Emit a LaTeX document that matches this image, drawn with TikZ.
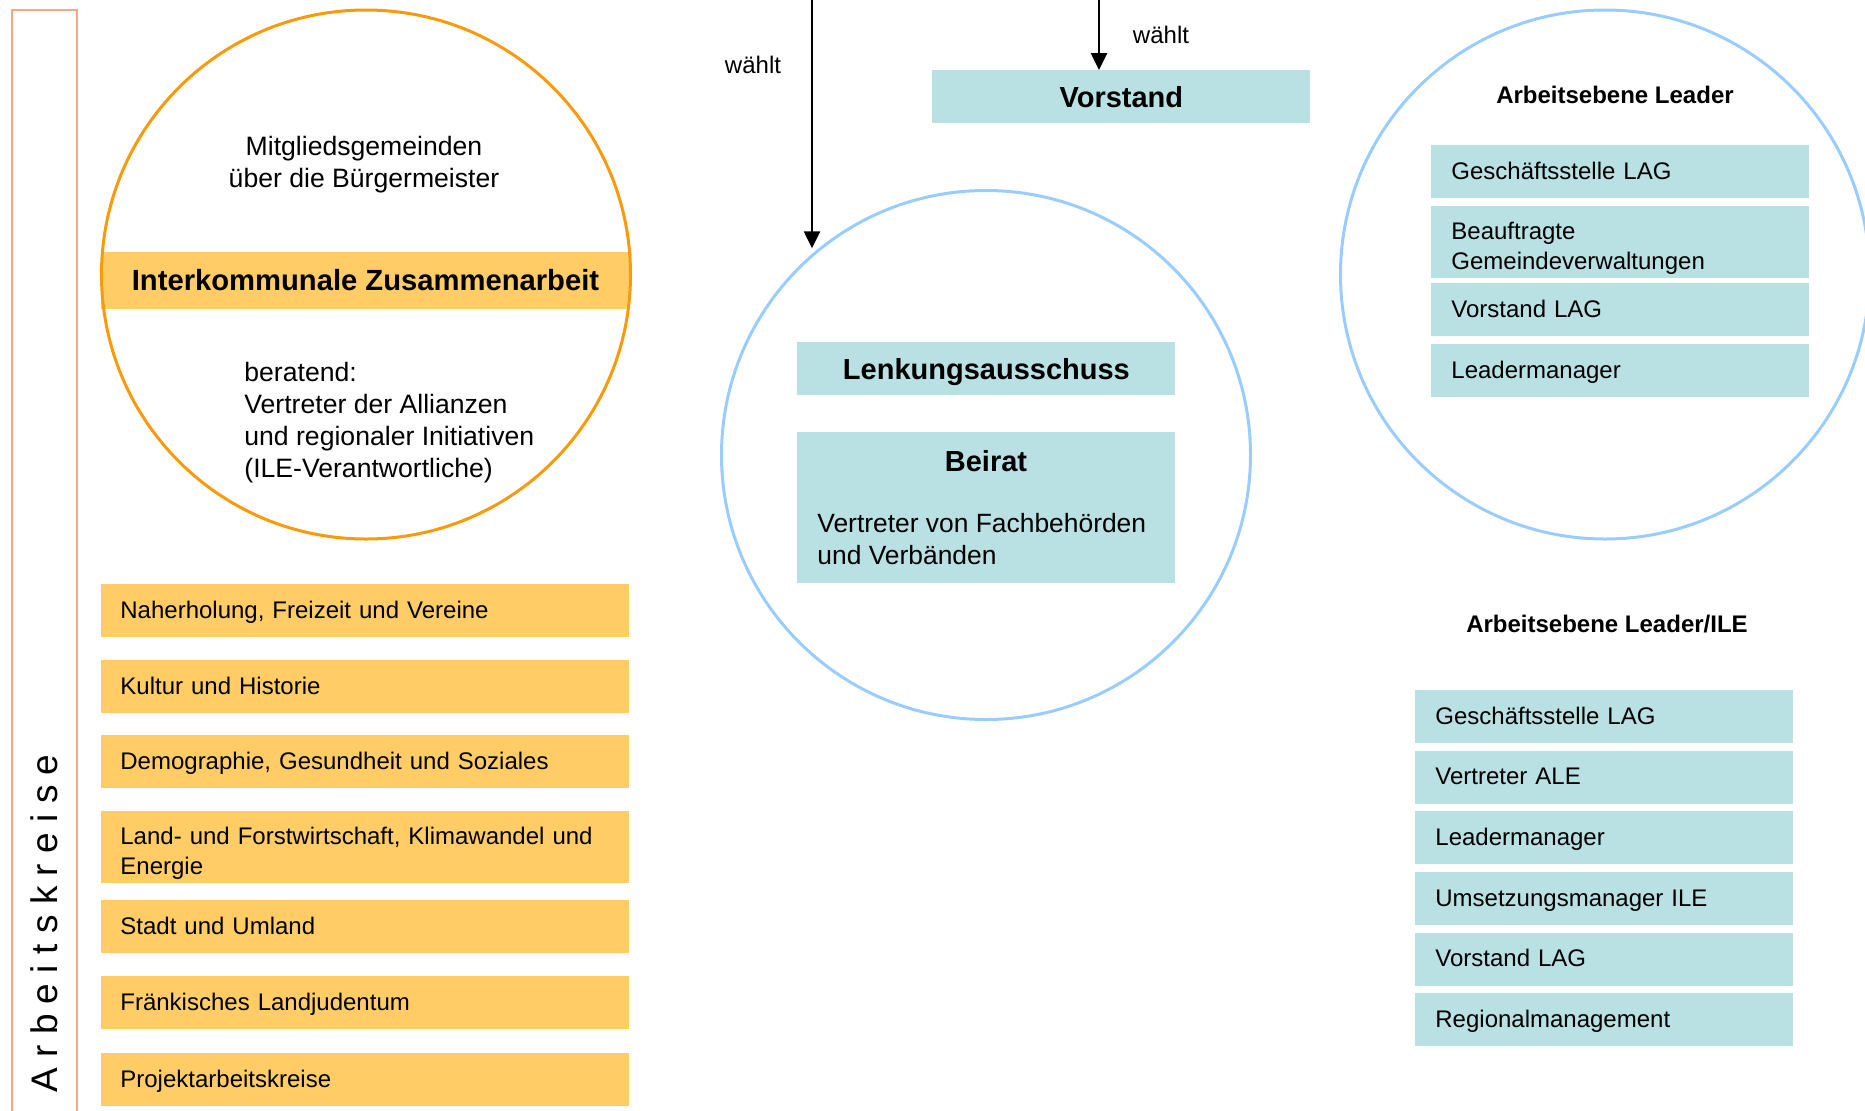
\documentclass[tikz,border=0pt]{standalone}
\usepackage{fontspec}
\setmainfont{Liberation Sans}
\newfontfamily\akfont[LetterSpace=28]{Liberation Sans}
\usetikzlibrary{arrows.meta}
\definecolor{orfill}{RGB}{255,204,102}
\definecolor{orline}{RGB}{248,154,10}
\definecolor{tealbox}{RGB}{185,224,227}
\definecolor{blueline}{RGB}{153,204,255}
\definecolor{salmonline}{RGB}{247,168,130}
\newcommand\myfs[2]{\fontsize{#1}{#2}\selectfont}
\begin{document}
\begin{tikzpicture}[x=0.5pt,y=-0.5pt,
  obox/.style={fill=orfill, anchor=north west, inner xsep=9.5pt, inner ysep=0pt, text width=245pt, align=left, minimum height=26.5pt, text height=8.6pt, text depth=1.4pt, font=\myfs{12}{14.8}},
  tbox/.style={fill=tealbox, anchor=north west, inner xsep=10pt, inner ysep=0pt, text width=169pt, align=left, minimum height=26.5pt, text height=8.6pt, text depth=1.4pt, font=\myfs{12}{14.8}},
  hbox/.style={fill=tealbox, anchor=north west, minimum width=189pt, minimum height=26.5pt, inner sep=0pt, text height=10.4pt, text depth=0.3pt, font=\bfseries\myfs{14.5}{17}},
  ring/.style={circle, inner sep=0pt, minimum size=264.5pt, line width=1.5pt},
  arr/.style={line width=1.3pt, -{Triangle[length=8.5pt,width=8pt]}},
  lbl/.style={font=\myfs{12}{14}, inner sep=0pt}
]
\useasboundingbox (0,0) rectangle (1865,1110);
\clip (0,0) rectangle (1865,1110);

% Arbeitskreise frame
\node[draw=salmonline, line width=1pt, anchor=north west, minimum width=32.75pt, minimum height=560pt, inner sep=0pt] (akframe) at (10.5,9) {};
\node[rotate=90, anchor=base west, inner sep=0pt, font=\akfont\myfs{18.5}{20}] (aktext) at (57,1093) {Arbeitskreise};

% Interkommunale Zusammenarbeit
\node[fill=orfill, minimum width=264.5pt, minimum height=28.5pt, inner sep=0pt, font=\bfseries\myfs{14.6}{17}] (ikz) at (365.5,280.5) {Interkommunale Zusammenarbeit};
\node[ring, draw=orline] (ike) at (366,274.5) {};
\node[align=center, inner sep=0pt, font=\myfs{13.3}{16}] (mitgl) at (364,164.5) {Mitgliedsgemeinden\\über die Bürgermeister};
\node[anchor=west, align=left, inner sep=0pt, font=\myfs{13.3}{16}] (berat) at (244,422.5) {beratend:\\Vertreter der Allianzen\\und regionaler Initiativen\\(ILE-Verantwortliche)};

% Arbeitskreise boxes
\node[obox] (k1) at (101,584) {Naherholung, Freizeit und Vereine};
\node[obox] (k2) at (101,660) {Kultur und Historie};
\node[obox] (k3) at (101,735) {Demographie, Gesundheit und Soziales};
\node[obox, minimum height=36pt, text depth=11.1pt] (k4) at (101,811) {Land- und Forstwirtschaft, Klimawandel und\\Energie};
\node[obox] (k5) at (101,900) {Stadt und Umland};
\node[obox] (k6) at (101,976) {Fränkisches Landjudentum};
\node[obox] (k7) at (101,1053) {Projektarbeitskreise};

% Middle
\node[ring, draw=blueline] (mid) at (986,455) {};
\node[hbox] (lenk) at (797,342) {Lenkungsausschuss};
\node[fill=tealbox, anchor=north west, minimum width=189pt, minimum height=75.5pt, inner sep=0pt] (beirat) at (797,432) {};
\node[font=\bfseries\myfs{14.5}{17}, inner sep=0pt] (beiratt) at (986,461) {Beirat};
\node[anchor=west, align=left, inner sep=0pt, font=\myfs{13.2}{16}] (beiratd) at (817,539) {Vertreter von Fachbehörden\\und Verbänden};

% Vorstand
\node[hbox] (vor) at (932,70) {Vorstand};

% Arrows
\coordinate (a1) at (812,-10);
\coordinate (a2) at (1099,-10);
\draw[arr, shorten >=3pt] (a1) -- (a1 |- mid.131);
\draw[arr] (a2) -- (a2 |- vor.north);
\node[lbl] (w1) at (753,65) {wählt};
\node[lbl] (w2) at (1161,35) {wählt};

% Arbeitsebene Leader
\node[ring, draw=blueline] (lead) at (1605,274.5) {};
\node[font=\bfseries\myfs{12}{14}, inner sep=0pt] (leadh) at (1615,95) {Arbeitsebene Leader};
\node[tbox] (l1) at (1431,145) {Geschäftsstelle LAG};
\node[tbox, minimum height=36pt, text depth=11.1pt] (l2) at (1431,206) {Beauftragte\\Gemeindeverwaltungen};
\node[tbox] (l3) at (1431,283) {Vorstand LAG};
\node[tbox] (l4) at (1431,344) {Leadermanager};

% Arbeitsebene Leader/ILE
\node[font=\bfseries\myfs{12}{14}, inner sep=0pt] (ileh) at (1607,624) {Arbeitsebene Leader/ILE};
\node[tbox] (i1) at (1415,690) {Geschäftsstelle LAG};
\node[tbox] (i2) at (1415,750.5) {Vertreter ALE};
\node[tbox] (i3) at (1415,811) {Leadermanager};
\node[tbox] (i4) at (1415,872) {Umsetzungsmanager ILE};
\node[tbox] (i5) at (1415,932.5) {Vorstand LAG};
\node[tbox] (i6) at (1415,993) {Regionalmanagement};
\end{tikzpicture}
\end{document}
